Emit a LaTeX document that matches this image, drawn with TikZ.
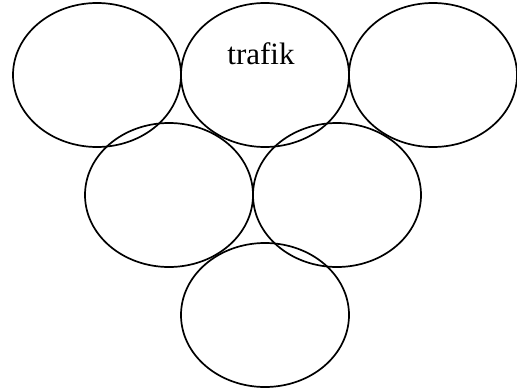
\documentclass[tikz,border=0pt]{standalone}
\usepackage{fontspec}
\setmainfont{Liberation Serif}
\usetikzlibrary{positioning, shapes.geometric}

\begin{document}
\begin{tikzpicture}[
    x=1pt, y=-1pt,
    ring/.style={draw=black, ellipse, line width=1.7pt, minimum width=168pt, minimum height=144pt, inner sep=0pt, outer sep=0pt},
    every node/.style={font=\fontsize{31}{37}\selectfont}
]
\useasboundingbox (0,0) rectangle (517,391);

\node[ring] (lefttop) at (97,75) {};
\node[ring, right=0pt of lefttop] (traffic) {};
\node[ring, right=0pt of traffic] (righttop) {};
\node[ring] (midleft) at (169,195) {};
\node[ring, right=0pt of midleft] (midright) {};
\node[ring] (bottom) at (265,315) {};

\node (traffictext) at (261,54) {trafik};

\end{tikzpicture}
\end{document}
